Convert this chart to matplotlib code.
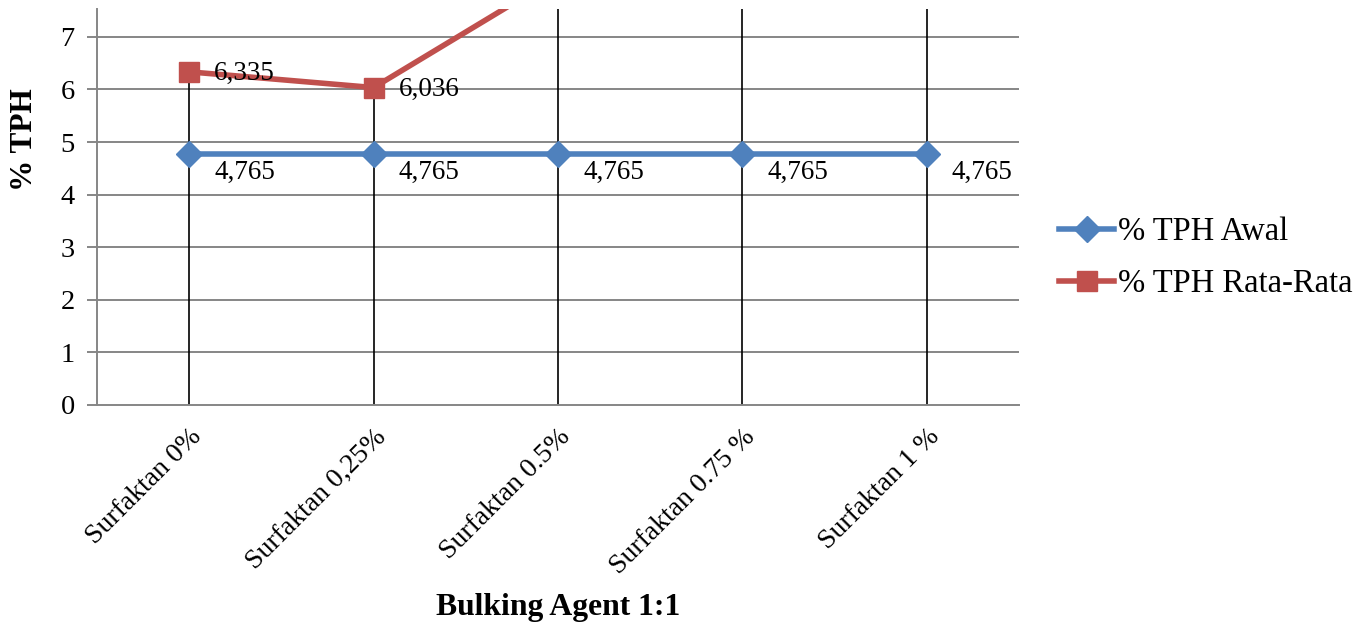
import numpy as np
import matplotlib.pyplot as plt
from matplotlib.transforms import ScaledTranslation

plt.rcParams['font.family'] = ['Liberation Serif', 'DejaVu Serif']

categories = ["Surfaktan 0%", "Surfaktan 0,25%", "Surfaktan 0.5%",
              "Surfaktan 0.75 %", "Surfaktan 1 %"]
tph_awal = [4.765, 4.765, 4.765, 4.765, 4.765]
tph_rata = [6.335, 6.036, 8.15, 8.6, 9.0]
series_names = ["% TPH Awal", "% TPH Rata-Rata"]
y_ticks = [0, 1, 2, 3, 4, 5, 6, 7]

BLUE = "#4F81BD"
RED = "#C0504D"
GRID = "#868686"

fig = plt.figure(figsize=(13.55, 6.3), dpi=100)
ax = fig.add_axes([97 / 1355, 1 - 405 / 630, (1019 - 97) / 1355, (405 - 9) / 630])

x = np.arange(len(categories))

# horizontal gridlines
for t in y_ticks[1:]:
    ax.axhline(t, color=GRID, lw=1.4, zorder=0)

# drop lines from the upper series down to the axis
ax.vlines(x, 0, tph_rata, color="black", lw=1.2, zorder=1)

ax.plot(x, tph_awal, color=BLUE, lw=4, marker="D", markersize=13,
        markeredgecolor=BLUE, zorder=3, label=series_names[0])
ax.plot(x, tph_rata, color=RED, lw=4, marker="s", markersize=14,
        markeredgecolor=RED, zorder=3, label=series_names[1])

def fmt(v):
    return f"{v:.3f}".replace(".", ",")

for xi, v in zip(x, tph_awal):
    ax.annotate(fmt(v), (xi, v), xytext=(18, -13), textcoords="offset points",
                ha="left", va="center", fontsize=19.5, zorder=4)
for xi, v in zip(x, tph_rata):
    ax.annotate(fmt(v), (xi, v), xytext=(18, -1), textcoords="offset points",
                ha="left", va="center", fontsize=19.5, zorder=4)

ax.set_xlim(-0.5, len(categories) - 0.5)
ax.set_ylim(0, 7.53)
ax.set_yticks(y_ticks)
ax.set_xticks(x)
ax.set_xticklabels(categories, rotation=45, ha="right", va="top",
                   rotation_mode="anchor", fontsize=20)
shift = ScaledTranslation(-5 / 100, -8 / 100, fig.dpi_scale_trans)
for lbl in ax.get_xticklabels():
    lbl.set_transform(lbl.get_transform() + shift)
ax.tick_params(axis="x", length=0, pad=14)
ax.tick_params(axis="y", direction="out", length=7, width=1.4, color=GRID,
               labelsize=20.5, pad=9)

for side in ("top", "right"):
    ax.spines[side].set_visible(False)
for side in ("left", "bottom"):
    ax.spines[side].set_color(GRID)
    ax.spines[side].set_linewidth(1.4)

fig.text(25 / 1355, 1 - 140 / 630, "% TPH", rotation=90, ha="center",
         va="center", fontsize=22.5, fontweight="bold")
fig.text(558 / 1355, 1 - 607 / 630, "Bulking Agent 1:1", ha="center",
         va="center", fontsize=22.8, fontweight="bold")

fig.legend(loc="center left", bbox_to_anchor=(1059 / 1355, 1 - 258 / 630),
           frameon=False, fontsize=23.5, handlelength=1.7, handletextpad=0.1,
           labelspacing=0.65, borderpad=0, borderaxespad=0)

fig.savefig("out.png", dpi=100)
